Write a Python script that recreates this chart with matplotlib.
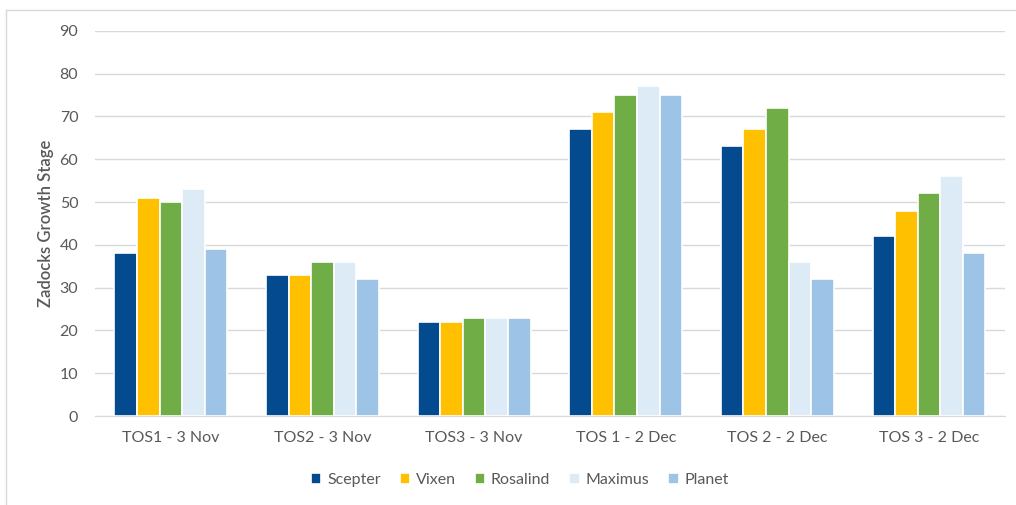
import matplotlib as mpl
mpl.use('Agg')
import matplotlib.pyplot as plt
import numpy as np

plt.rcParams['font.family'] = ['Lato', 'DejaVu Sans']

categories = ['TOS1 - 3 Nov', 'TOS2 - 3 Nov', 'TOS3 - 3 Nov',
              'TOS 1 - 2 Dec', 'TOS 2 - 2 Dec', 'TOS 3 - 2 Dec']
varieties = ['Scepter', 'Vixen', 'Rosalind', 'Maximus', 'Planet']
colors = ['#044A8E', '#FFC000', '#70AD47', '#DDEBF7', '#9DC3E6']

scepter = [38, 33, 22, 67, 63, 42]
vixen = [51, 33, 22, 71, 67, 48]
rosalind = [50, 36, 23, 75, 72, 52]
maximus = [53, 36, 23, 77, 36, 56]
planet = [39, 32, 23, 75, 32, 38]
series = [scepter, vixen, rosalind, maximus, planet]

text_col = '#595959'
grid_col = '#D9D9D9'

fig = plt.figure(figsize=(10.16, 5.05), dpi=100)
ax = fig.add_axes([0.0935, 0.176, 0.8955, 0.763])

x = np.arange(len(categories))
w = 0.149
for i, (name, vals) in enumerate(zip(varieties, series)):
    ax.bar(x + (i - 2) * w, vals, width=w, color=colors[i], label=name,
           edgecolor='white', linewidth=1.2, zorder=3)

ax.set_xlim(-0.5, len(categories) - 0.5)
ax.set_ylim(0, 90)
ax.set_yticks(range(0, 91, 10))
ax.set_xticks(x)
ax.set_xticklabels(categories)
ax.grid(axis='y', color=grid_col, linewidth=1, zorder=0)
for s in ['top', 'right', 'left']:
    ax.spines[s].set_visible(False)
ax.spines['bottom'].set_color(grid_col)
ax.tick_params(axis='both', length=0, colors=text_col, labelsize=11.5)
ax.tick_params(axis='x', pad=11)
ax.tick_params(axis='y', pad=12)
ax.set_ylabel('Zadocks Growth Stage', color=text_col, fontsize=12,
              fontweight='semibold', labelpad=4)

ax.legend(loc='upper center', bbox_to_anchor=(0.467, -0.11), ncol=5,
          frameon=False, fontsize=11.5, handlelength=0.65, handleheight=0.65,
          handletextpad=0.35, columnspacing=1.2, labelcolor=text_col)

# chart frame (left and top edges)
fig.add_artist(plt.Line2D([6 / 1016, 6 / 1016], [0, 1 - 10 / 505],
                          color=grid_col, linewidth=1))
fig.add_artist(plt.Line2D([6 / 1016, 1], [1 - 10 / 505, 1 - 10 / 505],
                          color=grid_col, linewidth=1))

plt.savefig('out.png')
plt.close()
